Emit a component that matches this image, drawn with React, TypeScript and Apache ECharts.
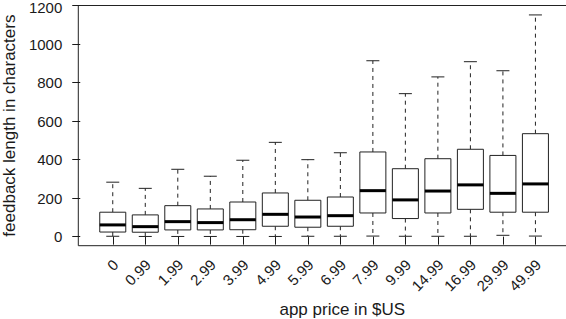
import React, { useEffect, useRef } from "react";
import * as echarts from "echarts";

const categories = ["0", "0.99", "1.99", "2.99", "3.99", "4.99", "5.99", "6.99", "7.99", "9.99", "14.99", "16.99", "29.99", "49.99"];
const whiskerLow = [2, 1, 1, 1, 1, 1, 2, 2, 3, 2, 2, 2, 7, 3];
const quartile1 = [24, 23, 35, 35, 36, 54, 49, 54, 123, 94, 123, 142, 127, 127];
const medians = [61, 52, 78, 73, 88, 116, 102, 109, 239, 191, 237, 269, 225, 274];
const quartile3 = [127, 113, 161, 144, 180, 227, 189, 206, 440, 353, 405, 454, 422, 535];
const whiskerHigh = [283, 251, 350, 314, 397, 490, 400, 436, 914, 743, 830, 909, 862, 1152];
const yTicks = [0, 200, 400, 600, 800, 1000, 1200];
const xPositions = categories.map((_, i) => i + 1);

const FONT = "'Liberation Sans', Arial, Helvetica, sans-serif";
const INK = "#1a1a1a";

export default function App() {
  const ref = useRef<HTMLDivElement>(null);
  useEffect(() => {
    if (!ref.current) return;
    const chart = echarts.init(ref.current, null, { renderer: "svg" });
    const data = categories.map((_, i) => [
      xPositions[i],
      whiskerLow[i],
      quartile1[i],
      medians[i],
      quartile3[i],
      whiskerHigh[i],
    ]);
    const topTick = yTicks[yTicks.length - 1];
    chart.setOption({
      animation: false,
      grid: {
        left: 78.3,
        top: 5.5,
        width: 528,
        height: 240.2,
        show: true,
        borderColor: "#222",
        borderWidth: 1,
        backgroundColor: "transparent",
        containLabel: false,
        outerBoundsMode: "none",
      },
      xAxis: {
        type: "value",
        min: -0.06,
        max: 16.18,
        splitLine: { show: false },
        axisLine: { show: false },
        axisTick: {
          show: true,
          customValues: xPositions,
          length: 8,
          lineStyle: { color: INK, width: 1 },
        },
        axisLabel: {
          customValues: xPositions,
          formatter: (v: number) => categories[Math.round(v) - 1] ?? "",
          rotate: 45,
          margin: 19,
          padding: [0, -4, 0, 0],
          lineHeight: 12,
          fontSize: 15,
          fontFamily: FONT,
          color: INK,
          hideOverlap: false,
        },
        name: "app price in $US",
        nameLocation: "middle",
        nameGap: 51,
        nameTextStyle: { fontSize: 17, fontFamily: FONT, color: INK },
      },
      yAxis: {
        type: "value",
        min: -47,
        max: 1201,
        splitLine: { show: false },
        axisLine: { show: false },
        axisTick: {
          show: true,
          customValues: yTicks,
          length: 8,
          lineStyle: { color: INK, width: 1 },
        },
        axisLabel: {
          customValues: yTicks,
          formatter: (v: number) => (v === topTick ? `{top|${v}}` : String(v)),
          margin: 16,
          lineHeight: 11,
          fontSize: 15,
          fontFamily: FONT,
          color: INK,
          rich: {
            top: {
              fontSize: 15,
              fontFamily: FONT,
              color: INK,
              lineHeight: 11,
              padding: [4, 0, 0, 0],
            },
          },
        },
        name: "feedback length in characters",
        nameLocation: "middle",
        nameGap: 49,
        nameTextStyle: { fontSize: 17, fontFamily: FONT, color: INK },
      },
      series: [
        {
          type: "custom",
          data,
          encode: { x: 0, y: [1, 2, 3, 4, 5] },
          renderItem: (params: any, api: any) => {
            const x = api.value(0);
            const pLo = api.coord([x, api.value(1)]);
            const pQ1 = api.coord([x, api.value(2)]);
            const pMed = api.coord([x, api.value(3)]);
            const pQ3 = api.coord([x, api.value(4)]);
            const pHi = api.coord([x, api.value(5)]);
            const left = api.coord([x - 0.4, 0])[0];
            const right = api.coord([x + 0.4, 0])[0];
            const capL = api.coord([x - 0.2, 0])[0];
            const capR = api.coord([x + 0.2, 0])[0];
            const cx = pMed[0];
            const lineStyle = { stroke: "#222", lineWidth: 1 };
            const dashStyle = { stroke: "#222", lineWidth: 1, lineDash: [4, 4] };
            return {
              type: "group",
              children: [
                { type: "line", shape: { x1: cx, y1: pQ3[1], x2: cx, y2: pHi[1] }, style: dashStyle },
                { type: "line", shape: { x1: cx, y1: pQ1[1], x2: cx, y2: pLo[1] }, style: dashStyle },
                { type: "line", shape: { x1: capL, y1: pHi[1], x2: capR, y2: pHi[1] }, style: lineStyle },
                { type: "line", shape: { x1: capL, y1: pLo[1], x2: capR, y2: pLo[1] }, style: lineStyle },
                {
                  type: "rect",
                  shape: { x: left, y: pQ3[1], width: right - left, height: pQ1[1] - pQ3[1] },
                  style: { fill: "#fff", stroke: "#222", lineWidth: 1 },
                },
                { type: "line", shape: { x1: left, y1: pMed[1], x2: right, y2: pMed[1] }, style: { stroke: "#000", lineWidth: 3 } },
              ],
            };
          },
        },
      ],
    });
    return () => chart.dispose();
  }, []);
  return (
    <div
      ref={ref}
      style={{ position: "absolute", left: 0, top: 0, width: 566, height: 319, background: "#fff" }}
    />
  );
}
